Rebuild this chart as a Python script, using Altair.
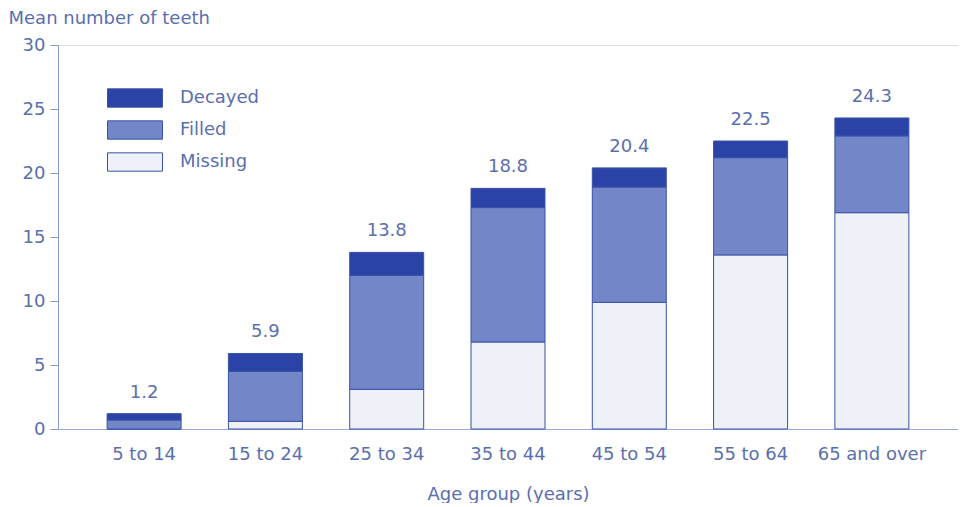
import altair as alt
import pandas as pd

ages = ["5 to 14", "15 to 24", "25 to 34", "35 to 44", "45 to 54", "55 to 64", "65 and over"]
decayed = [0.5, 1.4, 1.8, 1.5, 1.5, 1.3, 1.4]
filled = [0.7, 3.9, 8.9, 10.5, 9.0, 7.6, 6.0]
missing = [0.0, 0.6, 3.1, 6.8, 9.9, 13.6, 16.9]
totals = [1.2, 5.9, 13.8, 18.8, 20.4, 22.5, 24.3]
components = ["Decayed", "Filled", "Missing"]
comp_colors = ["#2b43a6", "#7386c8", "#eef1f8"]

rows = []
for i, a in enumerate(ages):
    rows.append({"age": a, "type": "Missing", "value": missing[i], "order": 0})
    rows.append({"age": a, "type": "Filled", "value": filled[i], "order": 1})
    rows.append({"age": a, "type": "Decayed", "value": decayed[i], "order": 2})
df = pd.DataFrame(rows)
tot = pd.DataFrame({"age": ages, "total": totals, "label": [f"{t:.1f}" for t in totals]})

TXT = "#5a6fae"
FONT = "DejaVu Sans"
FS = 18

x_enc = alt.X("age:N", sort=ages, title="Age group (years)",
              scale=alt.Scale(paddingInner=0.39, paddingOuter=0.405),
              axis=alt.Axis(labelAngle=0, ticks=False, labelPadding=16, titlePadding=22,
                            domainColor="#9aa8d8", labelColor=TXT, titleColor=TXT,
                            labelFontSize=FS, titleFontSize=FS, labelFont=FONT, titleFont=FONT,
                            titleFontWeight="normal"))

bars = alt.Chart(df).mark_bar(stroke="#3a52a8", strokeWidth=1).encode(
    x=x_enc,
    y=alt.Y("value:Q", stack="zero", title="Mean number of teeth",
            scale=alt.Scale(domain=[0, 30]),
            axis=alt.Axis(values=[0, 5, 10, 15, 20, 25, 30], grid=False, tickSize=8,
                          tickColor="#8a9ad0", domainColor="#8a9ad0", labelPadding=5,
                          labelColor=TXT, titleColor=TXT, labelFontSize=FS, titleFontSize=FS,
                          labelFont=FONT, titleFont=FONT, titleFontWeight="normal",
                          titleAngle=0, titleAlign="left", titleBaseline="middle",
                          titleX=-50, titleY=-27)),
    color=alt.Color("type:N", scale=alt.Scale(domain=components, range=comp_colors),
                    legend=alt.Legend(title=None, orient="none", legendX=67, legendY=43,
                                      symbolType="M-3,-1H3V1H-3Z", symbolSize=336,
                                      symbolStrokeColor="#3a52a8", symbolStrokeWidth=1,
                                      symbolOpacity=1, labelFontSize=FS, labelColor=TXT,
                                      labelFont=FONT, rowPadding=8, labelOffset=35)),
    order=alt.Order("order:Q"),
)

labels = alt.Chart(tot).mark_text(dy=-21, fontSize=FS, color=TXT, font=FONT).encode(
    x=alt.X("age:N", sort=ages),
    y=alt.Y("total:Q"),
    text="label:N",
)

chart = (bars + labels).properties(
    width=900, height=384,
    padding={"left": 0, "top": 1, "right": 0, "bottom": 0},
).configure_view(stroke="#9aa8d8", strokeWidth=1).configure(background="white")

chart.save("out.html", embed_options={"renderer": "svg", "actions": False})
